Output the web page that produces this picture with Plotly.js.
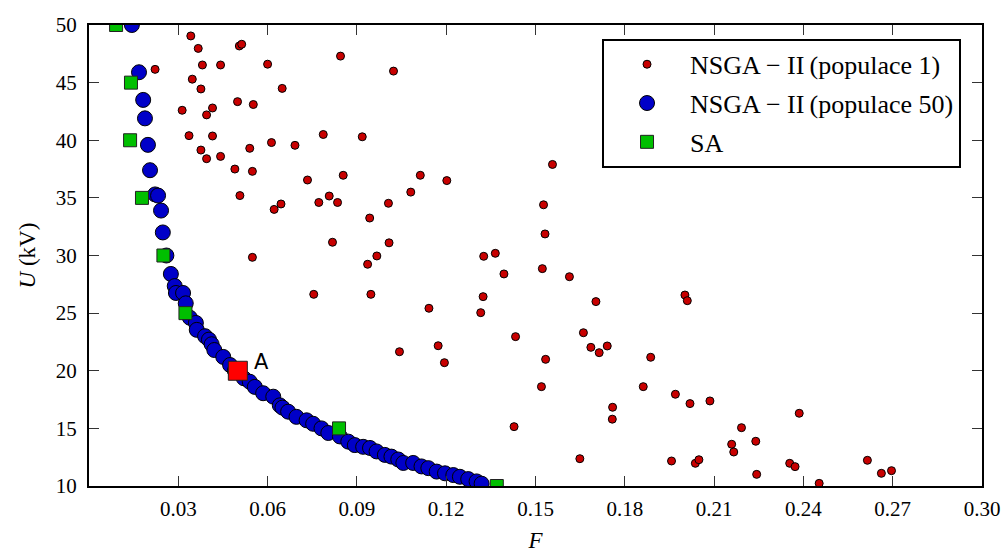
<!DOCTYPE html>
<html>
<head>
<meta charset="utf-8">
<script src="https://cdn.plot.ly/plotly-3.0.1.min.js"></script>
<style>html,body{margin:0;padding:0;background:#fff;}#chart{width:1008px;height:553px;}</style>
</head>
<body>
<div id="chart"></div>
<script>
// NSGA-II (populace 1)
const pop1F = [0.0342,0.0367,0.0505,0.0513,0.0222,0.0381,0.0442,0.0600,0.0347,0.0376,0.0649,0.0499,0.0552,0.0313,0.0415,0.0395,0.0336,0.0415,0.0376,0.0395,0.0442,0.0540,0.0613,0.0490,0.0549,0.0507,0.0622,0.0645,0.0549,0.0845,0.1023,0.0787,0.0918,0.0692,0.0734,0.0854,0.1113,0.1202,0.1081,0.0807,0.1557,0.0772,0.0835,0.1006,0.0943,0.1527,0.1532,0.0818,0.1008,0.0967,0.0936,0.1326,0.1365,0.1394,0.1523,0.0755,0.0947,0.1324,0.1316,0.1142,0.1614,0.1703,0.2002,0.2010,0.1433,0.1661,0.1686,0.1714,0.1741,0.1534,0.1887,0.1043,0.1173,0.1194,0.1428,0.1520,0.1862,0.1970,0.2019,0.2086,0.1759,0.1758,0.2192,0.2240,0.2159,0.2166,0.2386,0.1649,0.1957,0.2037,0.2049,0.2243,0.2354,0.2372,0.2453,0.2615,0.2662,0.2696];
const pop1U = [49.05,47.97,48.18,48.33,46.15,46.53,46.53,46.60,45.30,44.45,44.50,43.35,43.10,42.60,42.80,42.20,40.40,40.37,39.15,38.40,38.60,39.30,39.80,37.50,37.30,35.20,34.00,34.47,29.84,47.30,46.00,40.50,40.30,39.56,36.55,36.96,36.96,36.50,35.50,35.16,37.90,34.60,34.60,34.53,33.25,34.40,31.87,31.15,31.10,29.96,29.24,29.93,30.19,28.40,28.86,26.63,26.63,26.43,25.04,25.42,28.16,26.00,26.57,26.08,22.96,23.30,22.03,21.57,22.15,20.99,21.17,21.65,22.17,20.70,15.15,18.62,18.62,17.96,17.15,17.38,16.83,15.80,15.06,13.88,13.62,12.95,16.31,12.37,12.17,11.97,12.28,11.01,11.97,11.68,10.23,12.23,11.10,11.33];

// NSGA-II (populace 50)
const pop50F = [0.0144,0.0168,0.0182,0.0188,0.0198,0.0205,0.0222,0.0232,0.0242,0.0248,0.0260,0.0275,0.0288,0.0292,0.0316,0.0325,0.0339,0.0359,0.0362,0.0390,0.0403,0.0412,0.0421,0.0451,0.0474,0.0490,0.0520,0.0540,0.0557,0.0585,0.0619,0.0641,0.0650,0.0669,0.0697,0.0731,0.0753,0.0781,0.0804,0.0843,0.0871,0.0893,0.0921,0.0944,0.0966,0.0994,0.1016,0.1039,0.1056,0.1089,0.1117,0.1140,0.1168,0.1196,0.1224,0.1246,0.1274,0.1302,0.1319];
const pop50U = [50.0,45.9,43.5,41.9,39.6,37.4,35.3,35.2,33.9,32.0,30.0,28.4,27.35,26.75,26.75,25.85,24.6,24.15,23.55,23.0,22.7,22.3,21.8,21.2,20.5,20.0,19.35,19.05,18.6,18.05,17.75,17.0,16.8,16.45,16.0,15.7,15.4,15.0,14.6,14.3,13.85,13.55,13.4,13.3,13.0,12.7,12.55,12.3,12.0,12.0,11.7,11.55,11.25,11.1,10.95,10.8,10.6,10.4,10.2];

// SA
const saF = [0.0091,0.0141,0.0138,0.0178,0.0250,0.0324,0.0840,0.1370];
const saU = [50,45,40,35,30,25,15,10];

// Point A
const aF = [0.050];
const aU = [20];
const aLabel = 'A';

const xTicks = [0.03,0.06,0.09,0.12,0.15,0.18,0.21,0.24,0.27,0.30];
const yTicks = [10,15,20,25,30,35,40,45,50];

const serif = 'Liberation Serif, Times New Roman, serif';

const traces = [
  {x: pop1F, y: pop1U, type: 'scatter', mode: 'markers', name: 'NSGA \u2212 II\u2009(populace 1)', legendgroup: 'g1',
   marker: {color: '#c80000', size: 8, line: {color: '#000', width: 1}}},
  {x: pop50F, y: pop50U, type: 'scatter', mode: 'markers', name: 'NSGA \u2212 II\u2009(populace 50)', legendgroup: 'g2',
   marker: {color: '#0000c8', size: 15, line: {color: '#000', width: 1}}},
  {x: saF, y: saU, type: 'scatter', mode: 'markers', name: 'SA', legendgroup: 'g3',
   marker: {color: '#00bf00', size: 13, symbol: 'square', line: {color: '#222', width: 1}}},
  {x: aF, y: aU, type: 'scatter', mode: 'markers', showlegend: false,
   marker: {color: '#ff0000', size: 19, symbol: 'square', line: {color: '#222', width: 1}}}
];

const axisCommon = {
  showgrid: false, zeroline: false, showline: true, linecolor: '#000', linewidth: 2,
  mirror: 'ticks', ticks: 'inside', ticklen: 10, tickwidth: 1, tickcolor: '#333',
  tickfont: {family: serif, size: 21, color: '#000'}
};

const layout = {
  width: 1008, height: 553,
  margin: {l: 89, r: 26, t: 25, b: 67},
  paper_bgcolor: '#fff', plot_bgcolor: '#fff',
  showlegend: true,
  xaxis: Object.assign({}, axisCommon, {
    range: [0, 0.30], tickvals: xTicks, ticktext: xTicks.map(v => v.toFixed(2)),
    ticklabelstandoff: 3,
    title: {text: '<i>F</i>', font: {family: serif, size: 23, color: '#000'}, standoff: 16}
  }),
  yaxis: Object.assign({}, axisCommon, {
    range: [10, 50], tickvals: yTicks, ticktext: yTicks.map(v => String(v)),
    ticklabelstandoff: 6,
    title: {text: '<i>U</i> (kV)', font: {family: serif, size: 23, color: '#000'}, standoff: 14}
  }),
  legend: {
    x: 0.5745, y: 0.97, xanchor: 'left', yanchor: 'top',
    bordercolor: '#000', borderwidth: 2, bgcolor: '#fff',
    font: {family: serif, size: 26, color: '#000'},
    tracegroupgap: 2, itemwidth: 76
  },
  annotations: [{
    x: aF[0], y: aU[0], xref: 'x', yref: 'y', text: aLabel, showarrow: false,
    xshift: 24, yshift: 9, font: {family: 'DejaVu Sans, sans-serif', size: 21, color: '#000'}
  }]
};

Plotly.newPlot('chart', traces, layout, {displayModeBar: false, staticPlot: true});
</script>
</body>
</html>
